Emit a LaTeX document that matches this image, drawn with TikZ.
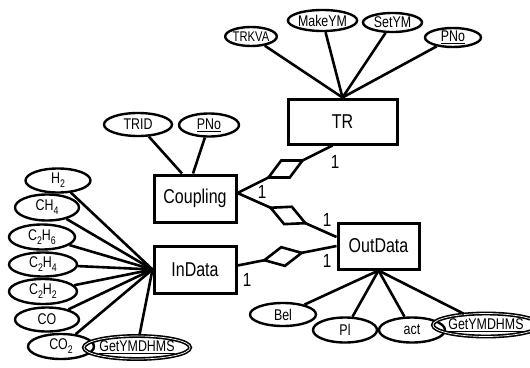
\documentclass[tikz,border=0pt]{standalone}
\usepackage{fontspec}
\setmainfont{Liberation Sans}[FakeStretch=0.8]
\usetikzlibrary{shapes.geometric,calc}

% lowered chemical index
\newcommand\chsub[1]{\raisebox{-4pt}{\fontsize{11}{11}\selectfont #1}}

% relationship diamond placed on the segment #1--#2 at fraction #3
\newcommand\reldiamond[3]{%
  \coordinate (dm) at ($(#1)!#3!(#2)$);
  \filldraw[link, fill=white]
    ($(dm)!19pt!(#1)$) -- ($(dm)!9.5pt!90:(#2)$) --
    ($(dm)!19pt!(#2)$) -- ($(dm)!9.5pt!-90:(#2)$) -- cycle;
}

\tikzset{
  entity/.style={draw, line width=3pt, minimum width=82pt, minimum height=47pt,
    inner sep=0pt, font=\fontsize{20}{22}\selectfont},
  attr/.style={ellipse, draw, line width=2.4pt, inner sep=0pt,
    font=\fontsize{15.5}{17}\selectfont, minimum width=66pt, minimum height=25pt},
  keyattr/.style={attr, double, double distance=0.7pt, line width=1.6pt,
    font=\fontsize{15.5}{16}\selectfont},
  link/.style={line width=2.6pt},
  card/.style={font=\fontsize{19}{20}\selectfont, inner sep=0pt},
}

\begin{document}
\begin{tikzpicture}[x=1pt, y=-1pt]
\useasboundingbox (0,0) rectangle (530,367);

% entities
\node[entity, minimum width=109pt, minimum height=45pt] (TR) at (342.5,121.5) {TR};
\node[entity] (Coupling) at (195,198.5) {Coupling};
\node[entity] (InData) at (195,269.5) {InData};
\node[entity, minimum width=81pt, minimum height=46pt] (OutData) at (378.5,246) {OutData};

% attributes of TR
\node[attr, minimum width=50pt, minimum height=19pt, font=\fontsize{14}{16}\selectfont] (trkva) at (251,36.5) {TRKVA};
\node[attr, minimum width=67pt, minimum height=21pt] (makeym) at (322.5,20.5) {MakeYM};
\node[attr, minimum width=59pt, minimum height=19pt] (setym) at (392.5,22.5) {SetYM};
\node[attr, minimum width=56pt, minimum height=19pt] (trpno) at (453,37.5) {\underline{PNo}};

% attributes of Coupling
\node[attr, minimum width=68pt, minimum height=23pt] (trid) at (138,124.5) {TRID};
\node[attr, minimum width=60pt, minimum height=23pt] (cpno) at (209,125) {\underline{PNo}};

% attributes of InData
\node[attr, minimum width=65pt, minimum height=24pt] (h2) at (58,180.5) {H\chsub{2}};
\node[attr, minimum width=64pt, minimum height=26pt] (ch4) at (47,207.5) {CH\chsub{4}};
\node[attr, minimum width=66pt, minimum height=25pt] (c2h6) at (42,237) {C\chsub{2}H\chsub{6}};
\node[attr, minimum width=68pt, minimum height=24pt] (c2h4) at (43,264.5) {C\chsub{2}H\chsub{4}};
\node[attr, minimum width=68pt, minimum height=25pt] (c2h2) at (43,291.5) {C\chsub{2}H\chsub{2}};
\node[attr, minimum width=64pt, minimum height=24pt] (co) at (47,319.5) {CO};
\node[attr, minimum width=66pt, minimum height=25pt] (co2) at (61,346.5) {CO\chsub{2}};
\node[keyattr, minimum width=78pt, minimum height=23pt] (lget) at (137,347.5) {\underline{GetYMDHMS}};

% attributes of OutData
\node[attr, minimum width=66pt, minimum height=23pt] (bel) at (283,314.5) {Bel};
\node[attr, minimum width=64pt, minimum height=25pt] (pl) at (345,330) {Pl};
\node[attr, minimum width=66pt, minimum height=25pt] (act) at (412,330) {act};
\node[keyattr, minimum width=84pt, minimum height=23pt] (rget) at (486,325) {\underline{GetYMDHMS}};

% attribute links
\foreach \a in {trkva,makeym,setym,trpno} \draw[link] (TR.north) -- (\a);
\draw[link] (trid) -- ([xshift=-13pt]Coupling.north);
\draw[link] (cpno) -- ([xshift=-2pt]Coupling.north);
\foreach \a in {h2,ch4,c2h6,c2h4,c2h2,co,co2,lget} \draw[link] (InData.west) -- (\a);
\foreach \a in {bel,pl,act,rget} \draw[link] (OutData.south) -- (\a);

% relationships
\coordinate (cpR) at ([yshift=5.5pt]Coupling.east);
\coordinate (trB) at ([xshift=-10pt]TR.south);
\coordinate (odA) at ([yshift=9pt]OutData.west);
\coordinate (idR) at ([yshift=4pt]InData.east);

\draw[link] (cpR) -- (trB);
\draw[link] (cpR) -- (odA);
\draw[link] (idR) -- (OutData.west);
\reldiamond{cpR}{trB}{0.505}
\reldiamond{cpR}{odA}{0.51}
\reldiamond{idR}{OutData.west}{0.46}

% cardinalities
\node[card] (k1) at (262,192) {1};
\node[card] (k2) at (335,162) {1};
\node[card] (k3) at (327,220) {1};
\node[card] (k4) at (327,261) {1};
\node[card] (k5) at (247,280) {1};
\end{tikzpicture}
\end{document}
